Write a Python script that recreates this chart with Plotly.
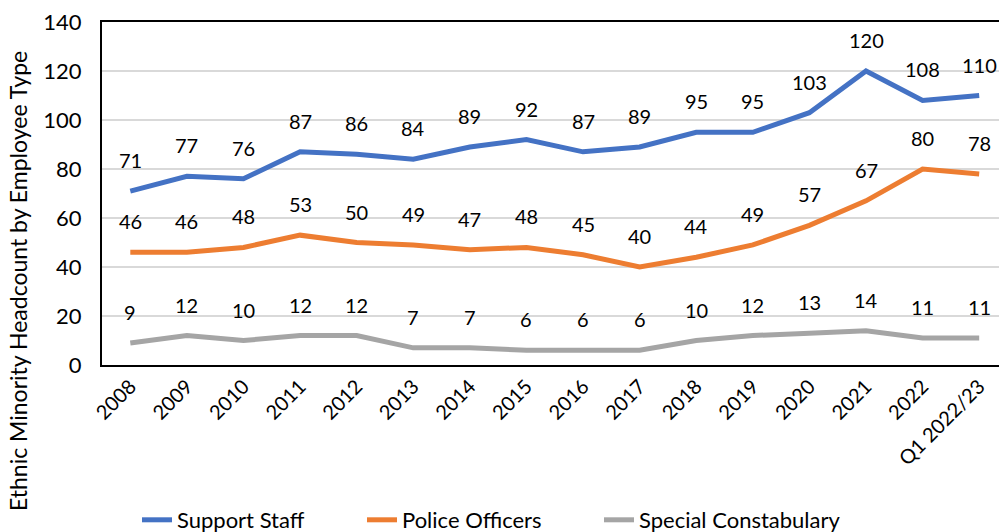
import plotly.graph_objects as go

categories = ["2008", "2009", "2010", "2011", "2012", "2013", "2014", "2015",
              "2016", "2017", "2018", "2019", "2020", "2021", "2022", "Q1 2022/23"]
support_staff = [71, 77, 76, 87, 86, 84, 89, 92, 87, 89, 95, 95, 103, 120, 108, 110]
police_officers = [46, 46, 48, 53, 50, 49, 47, 48, 45, 40, 44, 49, 57, 67, 80, 78]
special_constabulary = [9, 12, 10, 12, 12, 7, 7, 6, 6, 6, 10, 12, 13, 14, 11, 11]
y_ticks = [0, 20, 40, 60, 80, 100, 120, 140]

series = [
    ("Support Staff", support_staff, "#4472C4"),
    ("Police Officers", police_officers, "#ED7D31"),
    ("Special Constabulary", special_constabulary, "#A5A5A5"),
]

FONT = "Lato, Carlito, Calibri, sans-serif"
L, R, T, B, W, H = 102, 0, 22, 167, 999, 532
PW, PH = W - L - R, H - T - B
legend_ids = ["legend", "legend2", "legend3"]
legend_left_px = [137, 362, 599]

fig = go.Figure()
annotations = []
xs = list(range(len(categories)))
for (name, vals, color), lid in zip(series, legend_ids):
    fig.add_trace(go.Scatter(x=xs, y=vals, mode="lines", name=name, legend=lid,
                             line=dict(color=color, width=5)))
    for xi, v in zip(xs, vals):
        annotations.append(dict(x=xi, y=v, xref="x", yref="y", text=str(v),
                                showarrow=False, yshift=31,
                                font=dict(family=FONT, size=20, color="#000000")))

annotations.append(dict(x=(18 - L) / PW, y=(H - B - 281) / PH, xref="paper", yref="paper",
                        xanchor="center", yanchor="middle",
                        text="Ethnic Minority Headcount by Employee Type",
                        showarrow=False, textangle=-90,
                        font=dict(family=FONT, size=23, color="#000000")))

legend_layouts = {}
for lid, px in zip(legend_ids, legend_left_px):
    legend_layouts[lid] = dict(orientation="h", xref="container", yref="container",
                               x=px / W, xanchor="left",
                               y=(H - 520) / H, yanchor="middle",
                               bgcolor="rgba(0,0,0,0)",
                               font=dict(family=FONT, size=22, color="#000000"))

fig.update_layout(
    width=W, height=H,
    margin=dict(l=L, r=R, t=T, b=B, autoexpand=False),
    paper_bgcolor="white", plot_bgcolor="white",
    font=dict(family=FONT, size=20, color="#000000"),
    showlegend=True,
    annotations=annotations,
    **legend_layouts,
)

fig.update_xaxes(range=[-0.5, 15.35], tickmode="array", tickvals=xs, ticktext=categories,
                 tickangle=-45, showgrid=False, showline=True, linecolor="#000000", linewidth=2,
                 mirror=True, ticks="", zeroline=False, automargin=False,
                 tickfont=dict(family=FONT, size=20, color="#000000"))
fig.update_yaxes(range=[0, 140], tickvals=y_ticks, showgrid=True, gridcolor="#D9D9D9", gridwidth=1.5,
                 showline=True, linecolor="#000000", linewidth=2, zeroline=False, ticks="",
                 ticklabelstandoff=14, automargin=False,
                 tickfont=dict(family=FONT, size=22, color="#000000"))

fig.write_html("out.html")
